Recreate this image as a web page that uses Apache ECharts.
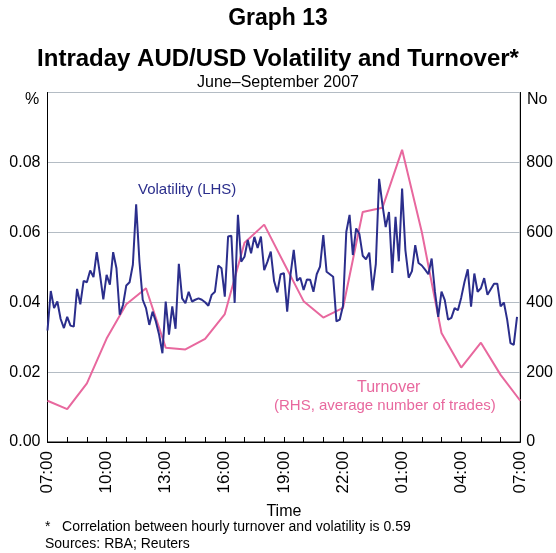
<!DOCTYPE html>
<html>
<head>
<meta charset="utf-8">
<script src="https://cdn.jsdelivr.net/npm/echarts@6/dist/echarts.min.js"></script>
<style>
html,body{margin:0;padding:0;background:#fff;}
#chart{width:556px;height:553px;}
</style>
</head>
<body>
<div id="chart"></div>
<script>
// Hour labels for x axis (hours after 07:00)
const hourLabels = ['07:00','08:00','09:00','10:00','11:00','12:00','13:00','14:00','15:00','16:00','17:00','18:00','19:00','20:00','21:00','22:00','23:00','00:00','01:00','02:00','03:00','04:00','05:00','06:00','07:00'];
// Turnover (RHS, average number of trades), hourly from 07:00 to 07:00
const turnover = [118,94,168,296,394,440,270,265,295,366,570,622,512,403,356,384,658,670,836,601,312,213,284,192,118];
// Volatility (LHS, %), 10-minute intervals from 07:00 to 06:50
const volatility = [
0.0319,0.0432,0.0383,0.0402,0.0352,0.0326,
0.0358,0.0333,0.0330,0.0438,0.0394,0.0461,
0.0457,0.0491,0.0472,0.0543,0.0478,0.0408,
0.0478,0.0450,0.0543,0.0497,0.0364,0.0392,
0.0448,0.0457,0.0507,0.0680,0.0516,0.0407,
0.0383,0.0335,0.0373,0.0345,0.0307,0.0254,
0.0402,0.0307,0.0388,0.0324,0.0510,0.0411,
0.0397,0.0430,0.0402,0.0407,0.0411,0.0407,
0.0400,0.0390,0.0421,0.0430,0.0505,0.0497,
0.0416,0.0588,0.0590,0.0398,0.0650,0.0516,
0.0530,0.0578,0.0540,0.0587,0.0555,0.0588,
0.0492,0.0516,0.0545,0.0461,0.0428,0.0480,
0.0483,0.0373,0.0478,0.0550,0.0461,0.0470,
0.0435,0.0465,0.0464,0.0430,0.0480,0.0502,
0.0592,0.0487,0.0480,0.0473,0.0345,0.0350,
0.0390,0.0601,0.0650,0.0535,0.0611,0.0595,
0.0533,0.0523,0.0542,0.0434,0.0510,0.0753,
0.0680,0.0615,0.0658,0.0484,0.0644,0.0517,
0.0725,0.0549,0.0470,0.0489,0.0563,0.0512,
0.0505,0.0493,0.0480,0.0525,0.0430,0.0358,
0.0430,0.0406,0.0350,0.0355,0.0383,0.0377,
0.0413,0.0458,0.0494,0.0387,0.0482,0.0430,
0.0440,0.0469,0.0421,0.0437,0.0453,0.0453,
0.0388,0.0399,0.0350,0.0283,0.0278,0.0358
];
const leftTicks = ['0.00','0.02','0.04','0.06','0.08',''];
const rightTicks = ['0','200','400','600','800',''];

const FONT = "'Liberation Sans', Arial, Helvetica, sans-serif";
const NAVY = '#2b2e8c';
const PINK = '#e8689e';

const volData = volatility.map((v, i) => [i / 6, v]);
const turnData = turnover.map((v, i) => [i, v]);

const chart = echarts.init(document.getElementById('chart'), null, {renderer: 'canvas'});
chart.setOption({
  animation: false,
  backgroundColor: '#fff',
  textStyle: {fontFamily: FONT},
  grid: {left: 47.5, right: 35, top: 92.5, bottom: 111, show: true, borderColor: '#000', borderWidth: 1, backgroundColor: 'transparent'},
  title: [
    {text: 'Graph 13', left: 'center', top: 2, textStyle: {fontFamily: FONT, fontSize: 23, fontWeight: 'bold', color: '#000'}},
    {text: 'Intraday AUD/USD Volatility and Turnover*', left: 'center', top: 42, textStyle: {fontFamily: FONT, fontSize: 24, fontWeight: 'bold', color: '#000'}},
    {text: 'June\u2013September 2007', left: 'center', top: 70, textStyle: {fontFamily: FONT, fontSize: 16, fontWeight: 'normal', color: '#000'}}
  ],
  xAxis: {
    type: 'value', min: 0, max: 24, interval: 1,
    name: 'Time', nameLocation: 'middle', nameGap: 62,
    nameTextStyle: {fontFamily: FONT, fontSize: 16, color: '#000'},
    axisLine: {show: true, lineStyle: {color: '#000', width: 1}},
    axisTick: {show: true, inside: true, length: 5, lineStyle: {color: '#000'}},
    splitLine: {show: false},
    axisLabel: {
      rotate: 90, margin: 9, fontFamily: FONT, fontSize: 17, color: '#000',
      formatter: v => (Math.round(v) % 3 === 0 ? hourLabels[Math.round(v)] : '')
    }
  },
  yAxis: [
    {
      type: 'value', min: 0, max: 0.1, interval: 0.02, position: 'left',
      axisLine: {show: true, lineStyle: {color: '#000'}},
      axisTick: {show: false},
      splitLine: {show: true, lineStyle: {color: '#b4bcc4', width: 1}},
      axisLabel: {margin: 7, fontFamily: FONT, fontSize: 16, color: '#000',
        formatter: v => leftTicks[Math.round(v / 0.02)]}
    },
    {
      type: 'value', min: 0, max: 1000, interval: 200, position: 'right',
      axisLine: {show: true, lineStyle: {color: '#000'}},
      axisTick: {show: false},
      splitLine: {show: false},
      axisLabel: {margin: 6, fontFamily: FONT, fontSize: 16, color: '#000',
        formatter: v => rightTicks[Math.round(v / 200)]}
    }
  ],
  graphic: [
    {type: 'text', left: 25, top: 92, style: {text: '%', font: '16px ' + FONT, fill: '#000'}},
    {type: 'text', left: 527, top: 92, style: {text: 'No', font: '16px ' + FONT, fill: '#000'}},
    {type: 'text', left: 138, top: 182, style: {text: 'Volatility (LHS)', font: '15px ' + FONT, fill: NAVY}},
    {type: 'text', left: 357, top: 380, style: {text: 'Turnover', font: '16px ' + FONT, fill: PINK}},
    {type: 'text', left: 274, top: 398, style: {text: '(RHS, average number of trades)', font: '15px ' + FONT, fill: PINK}},
    {type: 'text', left: 45, top: 520, style: {text: '*   Correlation between hourly turnover and volatility is 0.59', font: '14px ' + FONT, fill: '#000'}},
    {type: 'text', left: 45, top: 537, style: {text: 'Sources: RBA; Reuters', font: '14px ' + FONT, fill: '#000'}}
  ],
  series: [
    {
      type: 'line', yAxisIndex: 1, data: turnData, symbol: 'none', z: 2,
      lineStyle: {color: PINK, width: 2}
    },
    {
      type: 'line', yAxisIndex: 0, data: volData, symbol: 'none', z: 3,
      lineStyle: {color: NAVY, width: 2}
    }
  ]
});
</script>
</body>
</html>
